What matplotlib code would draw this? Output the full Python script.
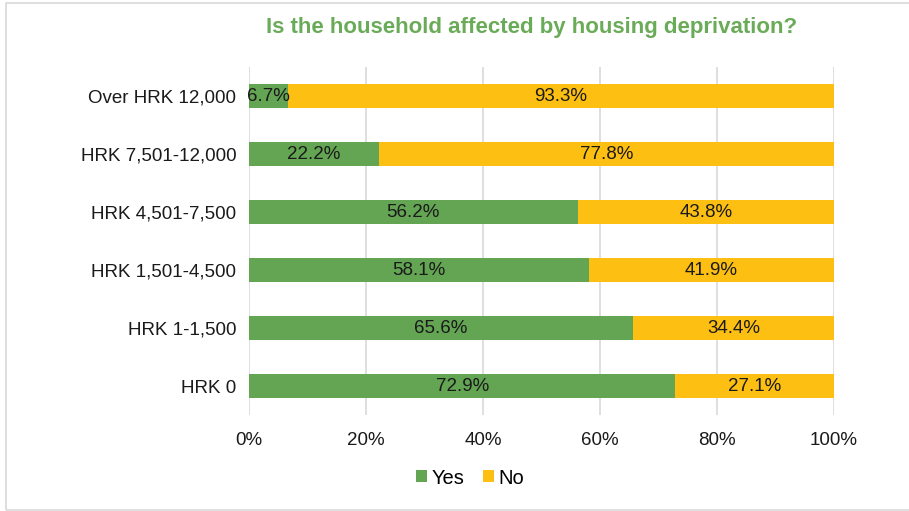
import matplotlib.pyplot as plt
from matplotlib.patches import Rectangle
import numpy as np

plt.rcParams['font.family'] = ['Liberation Sans', 'DejaVu Sans']

# Data (bottom to top as drawn)
categories = ['HRK 0', 'HRK 1-1,500', 'HRK 1,501-4,500', 'HRK 4,501-7,500',
              'HRK 7,501-12,000', 'Over HRK 12,000']
yes_vals = [72.9, 65.6, 58.1, 56.2, 22.2, 6.7]
no_vals = [27.1, 34.4, 41.9, 43.8, 77.8, 93.3]
x_ticks = [0, 20, 40, 60, 80, 100]

green = '#63A553'
yellow = '#FDBF12'

fig = plt.figure(figsize=(9.09, 5.11), dpi=100)
ax = fig.add_axes([249/909, 1 - 415/511, (834 - 249)/909, (415 - 67)/511])

y = np.arange(len(categories))
bar_h = 0.4
ax.barh(y, yes_vals, height=bar_h, color=green, label='Yes', zorder=2)
ax.barh(y, no_vals, left=yes_vals, height=bar_h, color=yellow, label='No', zorder=2)

# segment labels
for i in range(len(categories)):
    ax.text(yes_vals[i] / 2, y[i], f'{yes_vals[i]:.1f}%', ha='center', va='center',
            fontsize=13.5, color='#1a1a1a', zorder=3)
    ax.text(yes_vals[i] + no_vals[i] / 2, y[i], f'{no_vals[i]:.1f}%', ha='center',
            va='center', fontsize=13.5, color='#1a1a1a', zorder=3)

ax.set_xlim(0, 100)
ax.set_ylim(-0.5, len(categories) - 0.5)
ax.set_xticks(x_ticks)
ax.set_xticklabels([f'{t}%' for t in x_ticks])
ax.set_yticks(y)
ax.set_yticklabels(categories)
ax.tick_params(axis='both', length=0, labelsize=13.5, colors='#1a1a1a')
ax.tick_params(axis='x', pad=12)
ax.tick_params(axis='y', pad=9)
ax.grid(axis='x', color='#D9D9D9', linewidth=1.2, zorder=0)
for s in ax.spines.values():
    s.set_visible(False)

fig.text(532/909, 1 - 27/511, 'Is the household affected by housing deprivation?',
         ha='center', va='center', fontsize=16, fontweight='bold', color='#6AAB58')

leg = fig.legend(loc='center', bbox_to_anchor=(470/909, 1 - 478/511), ncol=2,
                 frameon=False, fontsize=14.5, handlelength=0.55, handleheight=0.55,
                 handletextpad=0.25, columnspacing=0.9)

# outer frame
fig.patches.append(Rectangle((6/909, 1/511), 1.0, 1 - 4/511, transform=fig.transFigure,
                             fill=False, edgecolor='#D9D9D9', linewidth=1.2))

fig.savefig('out.png', dpi=100, facecolor='white')
